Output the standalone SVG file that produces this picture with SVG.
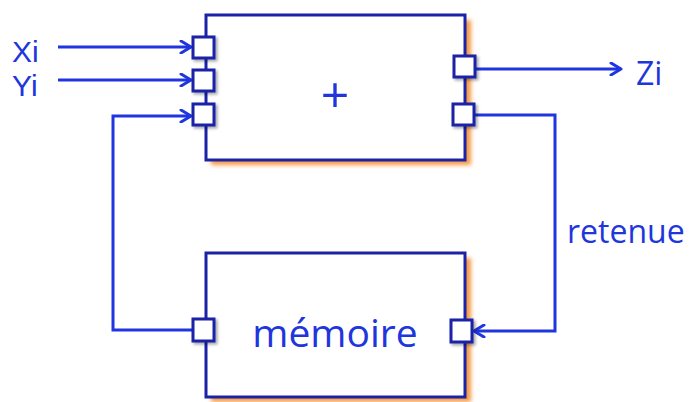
<svg xmlns="http://www.w3.org/2000/svg" width="694" height="402" viewBox="0 0 694 402">
<defs>
<filter id="osh" x="-10%" y="-10%" width="120%" height="120%"><feGaussianBlur stdDeviation="2"/></filter>
<filter id="psh" x="-30%" y="-30%" width="160%" height="160%"><feDropShadow dx="2" dy="2" stdDeviation="1.5" flood-color="#000" flood-opacity="0.35"/></filter>
<marker id="arr" viewBox="0 0 14 14" refX="12" refY="7" markerWidth="14" markerHeight="14" markerUnits="userSpaceOnUse" orient="auto">
<polyline points="2,1 12,7 2,13" fill="none" stroke="#1f35e0" stroke-width="3" stroke-linecap="round" stroke-linejoin="round"/>
</marker>
</defs>
<style>
.box{fill:#fff;stroke:#1a22a8;stroke-width:3}
.shadow{fill:#f59a45;filter:url(#osh)}
.port{fill:#fff;stroke:#1a22a8;stroke-width:3;filter:url(#psh)}
.wire{fill:none;stroke:#1f35e0;stroke-width:3}
.lbl{font-family:"Open Sans","Noto Sans",sans-serif;fill:#2036dc}
.io{font-family:"Liberation Sans",Arial,sans-serif;fill:#2036dc}
</style>
<g id="connectors">
<line class="wire" x1="58" y1="47" x2="191" y2="47" marker-end="url(#arr)"/>
<line class="wire" x1="58" y1="80" x2="191" y2="80" marker-end="url(#arr)"/>
<polyline class="wire" points="192,330 113,330 113,116 191,116" marker-end="url(#arr)"/>
<line class="wire" x1="476" y1="69" x2="621" y2="69" marker-end="url(#arr)"/>
<polyline class="wire" points="475,115 555,115 555,331 474,331" marker-end="url(#arr)"/>
</g>
<g id="adder">
<rect class="shadow" x="211" y="20" width="260" height="145"/>
<rect class="box" x="206" y="15" width="259" height="145"/>
<text class="lbl" x="335" y="113" font-size="50" text-anchor="middle">+</text>
</g>
<g id="memoire">
<rect class="shadow" x="211" y="258" width="260" height="144"/>
<rect class="box" x="206" y="253" width="259" height="144"/>
<text class="lbl" x="335" y="347" font-size="39" text-anchor="middle">mémoire</text>
</g>
<g id="ports">
<rect class="port" x="193" y="37" width="21" height="21"/>
<rect class="port" x="193" y="70" width="21" height="21"/>
<rect class="port" x="193" y="104" width="21" height="21"/>
<rect class="port" x="454" y="56" width="21" height="21"/>
<rect class="port" x="453" y="104" width="21" height="21"/>
<rect class="port" x="193" y="319" width="21" height="22"/>
<rect class="port" x="451" y="320" width="21" height="22"/>
</g>
<g id="labels">
<text class="io" x="12" y="62" font-size="30">Xi</text>
<text class="io" x="12" y="96" font-size="30">Yi</text>
<text class="lbl" x="636" y="85" font-size="32">Zi</text>
<text class="lbl" x="567" y="243" font-size="32">retenue</text>
</g>
</svg>
